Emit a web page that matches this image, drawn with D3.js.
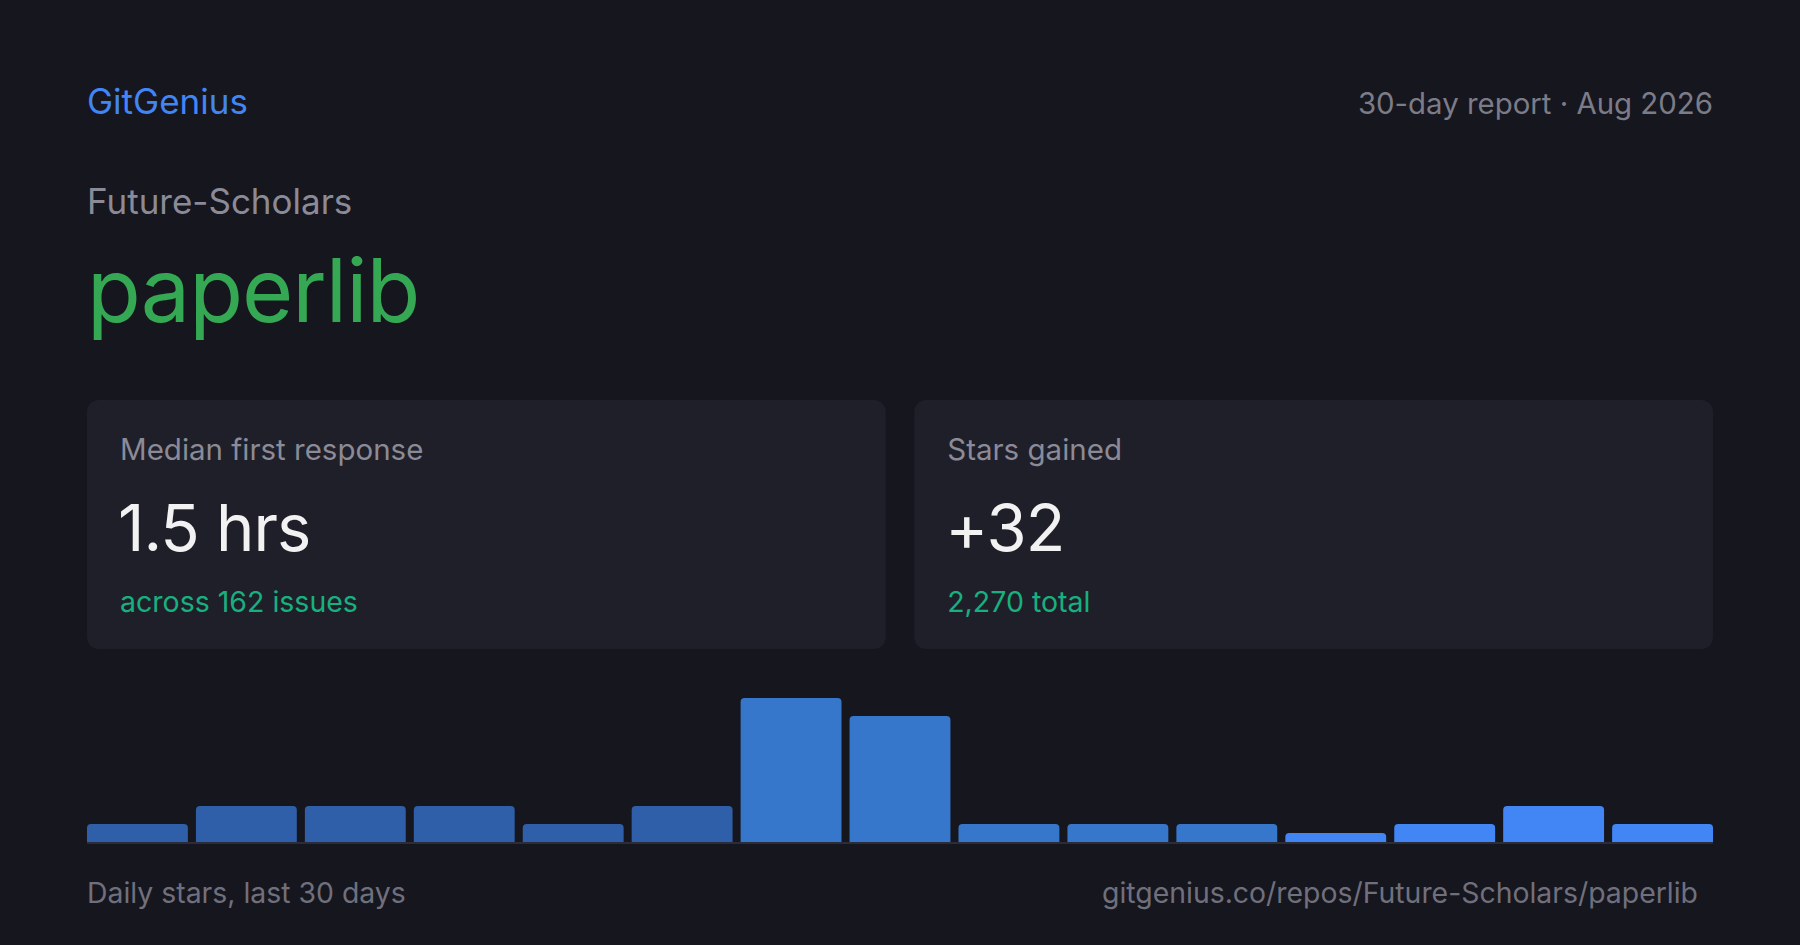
<!DOCTYPE html>
<html>
<head>
<meta charset="utf-8">
<script src="https://cdn.jsdelivr.net/npm/d3@7"></script>
<style>
  html, body { margin: 0; padding: 0; background: #16161f; }
  svg { display: block; font-family: Inter, "Noto Sans", sans-serif; }
</style>
</head>
<body>
<script>
  var width = 1800;
  var height = 945;

  var brand = "GitGenius";
  var period = "30-day report \u00b7 Aug 2026";
  var owner = "Future-Scholars";
  var repo = "paperlib";

  var cardLabels = ["Median first response", "Stars gained"];
  var cardValues = ["1.5 hrs", "+32"];
  var cardNotes = ["across 162 issues", "2,270 total"];

  // one bar per 2 days, oldest first
  var dailyStars = [1, 2, 2, 2, 1, 2, 8, 7, 1, 1, 1, 0, 1, 2, 1];

  var chartCaption = "Daily stars, last 30 days";
  var repoUrl = "gitgenius.co/repos/Future-Scholars/paperlib";

  var left = 87, right = 1713;
  var mutedColor = '#8b8b97';

  var svg = d3.select("body")
    .append("svg")
    .attr("width", width)
    .attr("height", height);

  svg.append("rect")
    .attr("width", width)
    .attr("height", height)
    .attr("fill", "#16161f");

  // header
  svg.append("text")
    .attr("x", left).attr("y", 114)
    .attr("font-size", 35)
    .attr("fill", "#4285f4")
    .text(brand);

  svg.append("text")
    .attr("x", right).attr("y", 114)
    .attr("text-anchor", "end")
    .attr("font-size", 29.4)
    .attr("fill", "#7c7c88")
    .text(period);

  svg.append("text")
    .attr("x", left).attr("y", 214)
    .attr("font-size", 35)
    .attr("fill", mutedColor)
    .text(owner);

  svg.append("text")
    .attr("x", left).attr("y", 322)
    .attr("font-size", 88)
    .attr("letter-spacing", -1)
    .attr("fill", "#34a853")
    .text(repo);

  // stat cards
  var cardX = d3.scaleBand()
    .domain(d3.range(cardLabels.length))
    .range([left, right])
    .paddingInner(0.0344);

  var cards = svg.selectAll("g.card")
    .data(cardLabels)
    .enter()
    .append("g")
    .attr("class", "card")
    .attr("transform", function(d, i) { return "translate(" + cardX(i) + ",400)"; });

  cards.append("rect")
    .attr("width", cardX.bandwidth())
    .attr("height", 249)
    .attr("rx", 12)
    .attr("fill", "#1f1f2a");

  cards.append("text")
    .attr("x", 33).attr("y", 60)
    .attr("font-size", 29.5)
    .attr("fill", mutedColor)
    .text(function(d) { return d; });

  cards.append("text")
    .attr("x", 31).attr("y", 151)
    .attr("font-size", 65)
    .attr("letter-spacing", -1)
    .attr("fill", "#f2f2f2")
    .text(function(d, i) { return cardValues[i]; });

  cards.append("text")
    .attr("x", 33).attr("y", 212)
    .attr("font-size", 28.5)
    .attr("fill", "#19b07f")
    .text(function(d, i) { return cardNotes[i]; });

  // bar chart
  var baseY = 842;

  var x = d3.scaleBand()
    .domain(d3.range(dailyStars.length))
    .range([left, right])
    .paddingInner(0.074);

  var y = d3.scaleLinear()
    .domain([0, d3.max(dailyStars)])
    .range([0, 144]);

  var tone = d3.scaleThreshold()
    .domain([6, 11])
    .range(["#2f5fa8", "#3677cb", "#4286f5"]);

  function topRounded(x0, w, h, r) {
    var p = d3.path();
    var top = baseY - h;
    p.moveTo(x0, baseY);
    p.lineTo(x0, top + r);
    p.arcTo(x0, top, x0 + r, top, r);
    p.lineTo(x0 + w - r, top);
    p.arcTo(x0 + w, top, x0 + w, top + r, r);
    p.lineTo(x0 + w, baseY);
    p.closePath();
    return p.toString();
  }

  svg.selectAll("path.bar")
    .data(dailyStars)
    .enter()
    .append("path")
    .attr("class", "bar")
    .attr("d", function(d, i) { return topRounded(x(i), x.bandwidth(), Math.max(y(d), 9), 4); })
    .attr("fill", function(d, i) { return tone(i); });

  svg.append("line")
    .attr("x1", left).attr("x2", right)
    .attr("y1", baseY + 1).attr("y2", baseY + 1)
    .attr("stroke", "#2b2c3a")
    .attr("stroke-width", 2);

  // footer
  svg.append("text")
    .attr("x", left).attr("y", 903)
    .attr("font-size", 28.4)
    .attr("fill", "#70707c")
    .text(chartCaption);

  svg.append("text")
    .attr("x", 1698).attr("y", 903)
    .attr("text-anchor", "end")
    .attr("font-size", 28.4)
    .attr("fill", "#70707c")
    .text(repoUrl);
</script>
</body>
</html>
